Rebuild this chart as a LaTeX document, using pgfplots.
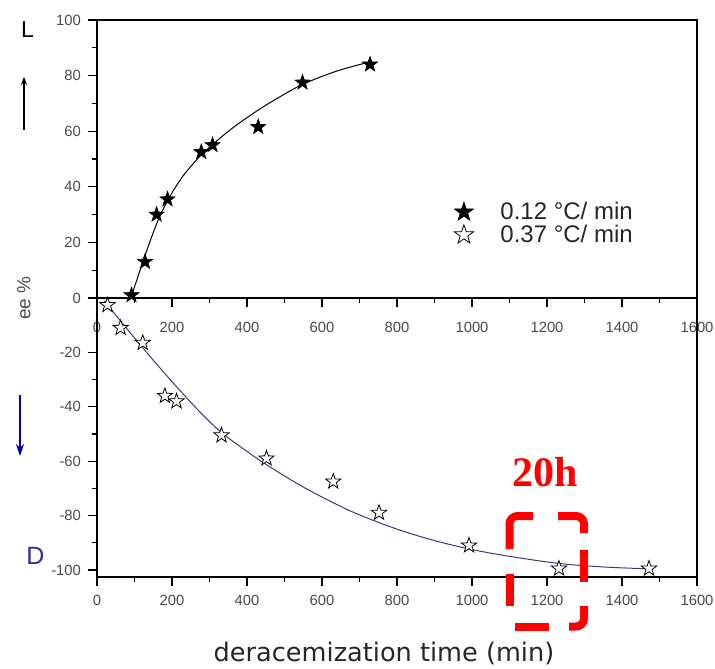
\documentclass[border=0pt]{standalone}
\usepackage{pgfplots}
\pgfplotsset{compat=1.18}
\usetikzlibrary{arrows.meta}
\usepackage{fontspec}
\setmainfont{Liberation Sans}
\newfontfamily\dejavu{DejaVu Sans}
\newfontfamily\timesf{Liberation Serif}
\definecolor{tickgray}{HTML}{4A4A4A}
\definecolor{navyline}{HTML}{3A3A7A}
\definecolor{dblue}{HTML}{2E2EA0}

\pgfdeclareplotmark{pstar}{%
  \pgfpathmoveto{\pgfpointpolar{90}{\pgfplotmarksize}}%
  \pgfpathlineto{\pgfpointpolar{126}{0.40\pgfplotmarksize}}%
  \pgfpathlineto{\pgfpointpolar{162}{\pgfplotmarksize}}%
  \pgfpathlineto{\pgfpointpolar{198}{0.40\pgfplotmarksize}}%
  \pgfpathlineto{\pgfpointpolar{234}{\pgfplotmarksize}}%
  \pgfpathlineto{\pgfpointpolar{270}{0.40\pgfplotmarksize}}%
  \pgfpathlineto{\pgfpointpolar{306}{\pgfplotmarksize}}%
  \pgfpathlineto{\pgfpointpolar{342}{0.40\pgfplotmarksize}}%
  \pgfpathlineto{\pgfpointpolar{18}{\pgfplotmarksize}}%
  \pgfpathlineto{\pgfpointpolar{54}{0.40\pgfplotmarksize}}%
  \pgfpathclose
  \pgfusepathqfillstroke
}

\pgfplotsset{myax/.style={
  scale only axis, width=300pt,
  xmin=0, xmax=1600,
  xtick={0,200,...,1600}, minor x tick num=1, minor y tick num=1,
  xtick pos=left, ytick pos=left,
  tick align=outside,
  major tick length=4.5pt, minor tick length=2.5pt,
  tick label style={font=\fontsize{7.4}{8.5}\selectfont, text=tickgray},
  /pgf/number format/assume math mode=true,
  /pgf/number format/1000 sep={},
  axis line style={line width=0.8pt},
  every tick/.style={black, line width=0.6pt},
}}

\begin{document}
\begin{tikzpicture}
\begin{axis}[myax, name=up,
  height=139pt, ymin=0, ymax=100,
  ytick={0,20,...,100},
  xticklabel style={yshift=-4pt},
  legend style={draw=none, fill=none, at={(0.585,0.268)}, anchor=west,
    font=\fontsize{12}{13}\selectfont, text=black!85, row sep=0pt,
    nodes={inner ysep=0.6pt},
    /tikz/every odd column/.append style={column sep=11.5pt}},
  legend cell align=left,
  legend image post style={mark size=5pt},
]
\addplot[black, line width=0.5pt, smooth, tension=0.6, forget plot] coordinates {
(90,0) (110,8) (130,16) (160,27) (190,35.5) (230,44) (278,51.5) (308,55.2)
(363,61.3) (430,67.6) (488,72.4) (548,76.8) (630,81.2) (701,84) (728,84.8)};
\addplot[only marks, mark=pstar, mark size=4pt, mark options={fill=black, draw=black, line width=0.3pt}] coordinates {
(92,1) (128,13) (159,30) (188,35.5) (278,52.5) (308,55) (430,61.5) (548,77.5) (728,84)};
\addlegendentry{0.12 °C/ min}
\addlegendimage{only marks, mark=pstar, mark size=4pt, mark options={fill=white, draw=black, line width=0.4pt}}
\addlegendentry{0.37 °C/ min}
\end{axis}

\begin{axis}[myax, name=low, at={(up.south west)}, anchor=north west,
  height=139.5pt, ymin=-102.6, ymax=0,
  ytick={-100,-80,...,-20},
  xticklabel style={yshift=-1pt},
]
\addplot[navyline, line width=0.5pt, smooth, tension=0.6] coordinates {
(20,-1) (63,-8.5) (122,-18.3) (159,-24.3) (212,-32.6) (275,-42) (332,-49.5)
(400,-56.4) (452,-61.3) (541,-68.8) (630,-75.3) (701,-79.8) (800,-85)
(900,-89.2) (1000,-92.5) (1100,-95) (1232,-97.6) (1350,-98.9) (1472,-99.6)};
\addplot[only marks, mark=pstar, mark size=4pt, mark options={fill=white, draw=black, line width=0.4pt}] coordinates {
(28,-2.6) (63,-11) (122,-16.5) (181,-36) (212,-38) (332,-50.5) (452,-59)
(630,-67.5) (752,-79) (992,-91) (1232,-99.5) (1472,-99.5)};
\end{axis}

\begin{scope}[shift={(up.north west)}, x=0.5pt, y=-0.5pt, shift={(-97,-20)}]
  \node[font=\fontsize{11.5}{13}\selectfont] at (27.5,30) {L};
  \draw[line width=0.6pt, -{Stealth[length=4pt,width=3pt]}] (24,130) -- (24,77);
  \draw[line width=0.8pt, -{Stealth[length=6pt,width=4pt]}, blue!70!black] (20,395) -- (20,456);
  \node[text=dblue, font=\fontsize{12.5}{14}\selectfont] at (35.5,556) {D};
  \node[rotate=90, text=tickgray, font=\fontsize{9.5}{11}\selectfont] at (24,298) {ee \%};
  \node[anchor=base, text=black!85, font=\dejavu\fontsize{12.8}{15}\selectfont] at (384,661) {deracemization time (min)};
  \node[text=red, font=\timesf\bfseries\fontsize{21}{25}\selectfont] at (545.5,472.5) {20h};
  \begin{scope}[red, line width=4pt, rounded corners=4pt]
    \draw (509.5,549) -- (509.5,516) -- (533,516);
    \draw (558,516) -- (584,516) -- (584,533);
    \draw (584,550) -- (584,582);
    \draw (584,606) -- (584,626.5) -- (569,626.5);
    \draw (549,626.5) -- (515,626.5);
    \draw (509.5,606) -- (509.5,574);
  \end{scope}
  \pgfresetboundingbox
  \path (0,0) rectangle (715,668);
\end{scope}
\end{tikzpicture}
\end{document}
